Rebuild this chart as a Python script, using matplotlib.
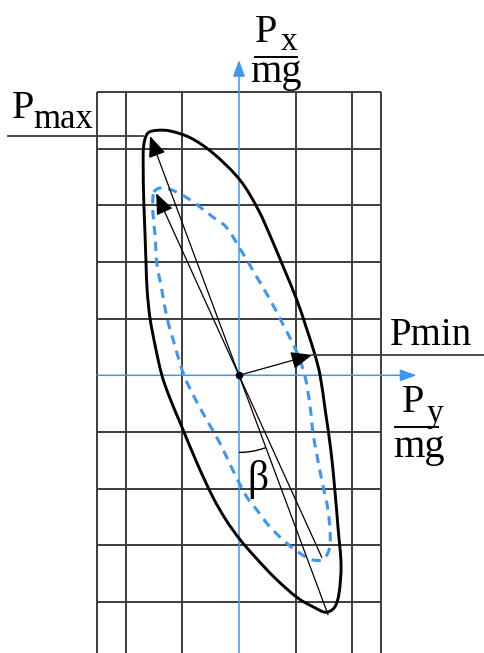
import matplotlib

matplotlib.use("Agg")
import matplotlib.pyplot as plt
import numpy as np
from matplotlib.lines import Line2D
from matplotlib.patches import Arc, PathPatch
from matplotlib.path import Path

W, H = 484, 653
UNIT = 56.7              # pixels per grid unit
ORIGIN = (239.0, 375.3)  # pixel position of the Py/Px origin

GRID_X = [-2.5, -2, -1, 1, 2, 2.5]
GRID_Y = [-4, -3, -2, -1, 1, 2, 3, 4, 5]
AXIS_PX_TOP = 5.56
AXIS_PY_RIGHT = 3.13

# load envelope (solid black), clockwise from the top
OUTER_X = [-1.61, -1.45, -1.22, -0.86, -0.46, 0.02, 0.34, 0.58, 0.79, 1.02, 1.20, 1.34, 1.43,
           1.52, 1.62, 1.69, 1.75, 1.80, 1.76, 1.68, 1.53, 1.34, 1.04, 0.64, 0.28, 0.02, -0.23,
           -0.46, -0.74, -1.02, -1.22, -1.36, -1.48, -1.57, -1.62, -1.64, -1.66, -1.68, -1.69,
           -1.68]
OUTER_Y = [4.27, 4.32, 4.31, 4.19, 3.92, 3.44, 2.92, 2.39, 1.89, 1.33, 0.80, 0.36, 0.00,
           -0.61, -1.32, -2.02, -2.73, -3.35, -3.87, -4.10, -4.18, -4.10, -3.93, -3.58, -3.20,
           -2.90, -2.55, -2.15, -1.55, -0.88, -0.40, 0.00, 0.53, 1.01, 1.50, 1.98, 2.56, 3.09,
           3.71, 4.06]

# reduced envelope (dashed blue), clockwise from the top
INNER_X = [-1.50, -1.41, -1.22, -0.95, -0.69, -0.46, -0.23, 0.02, 0.28, 0.55, 0.79, 1.02,
           1.16, 1.25, 1.31, 1.39, 1.46, 1.57, 1.61, 1.55, 1.45, 1.25, 0.95, 0.72, 0.49, 0.32,
           0.14, -0.11, -0.34, -0.55, -0.76, -0.97, -1.16, -1.27, -1.36, -1.45, -1.48, -1.52,
           -1.52]
INNER_Y = [3.23, 3.30, 3.28, 3.15, 2.97, 2.79, 2.62, 2.23, 1.79, 1.33, 0.87, 0.41, 0.00,
           -0.52, -1.05, -1.49, -1.85, -2.38, -2.96, -3.17, -3.26, -3.24, -3.05, -2.85, -2.61,
           -2.38, -2.15, -1.67, -1.19, -0.82, -0.44, 0.00, 0.62, 1.01, 1.50, 1.98, 2.47, 2.88,
           3.09]

P_MAX = (-1.57, 4.22)
P_MAX_INNER = (-1.46, 3.21)
P_MIN = (1.29, 0.36)
BETA_RADIUS = 1.36

BLUE = "#3b97f3"
GRID = "#3c3c3c"
SERIF = ["Liberation Serif", "DejaVu Serif"]


def closed_spline(xs, ys):
    # cubic Hermite through the points, tangents scaled by chord length
    pts = np.column_stack([xs, ys])
    prev = np.roll(pts, 1, axis=0)
    nxt = np.roll(pts, -1, axis=0)
    d_prev = np.linalg.norm(pts - prev, axis=1)
    d_next = np.linalg.norm(nxt - pts, axis=1)
    tang = (nxt - prev) / (d_prev + d_next)[:, None]
    n = len(pts)
    verts = [pts[0]]
    codes = [Path.MOVETO]
    for i in range(n):
        j = (i + 1) % n
        h = d_next[i] / 3
        verts += [pts[i] + tang[i] * h, pts[j] - tang[j] * h, pts[j]]
        codes += [Path.CURVE4] * 3
    return Path(verts, codes)


fig = plt.figure(figsize=(W / 100, H / 100), dpi=100)
ax = fig.add_axes([0, 0, 1, 1])
ax.set_xlim(-ORIGIN[0] / UNIT, (W - ORIGIN[0]) / UNIT)
ax.set_ylim((ORIGIN[1] - H) / UNIT, ORIGIN[1] / UNIT)
ax.axis("off")
y_bottom = ax.get_ylim()[0]
x_right = ax.get_xlim()[1]

# grid
ax.vlines(GRID_X, y_bottom - 1, GRID_Y[-1], color=GRID, lw=1.4, zorder=1)
ax.hlines(GRID_Y, GRID_X[0], GRID_X[-1], color=GRID, lw=1.4, zorder=1)

# blue axes
axis_arrow = dict(arrowstyle="-|>,head_length=0.55,head_width=0.2", color=BLUE, lw=1.1,
                  mutation_scale=18, shrinkA=0, shrinkB=0)
ax.annotate("", xy=(0, AXIS_PX_TOP), xytext=(0, y_bottom - 1), arrowprops=axis_arrow, zorder=2)
ax.annotate("", xy=(AXIS_PY_RIGHT, 0), xytext=(GRID_X[0], 0), arrowprops=axis_arrow, zorder=2)

# envelopes
ax.add_patch(PathPatch(closed_spline(OUTER_X, OUTER_Y), fill=False, color="black", lw=2.1, zorder=4))
inner = PathPatch(closed_spline(INNER_X, INNER_Y), fill=False, color=BLUE, lw=2.2, zorder=3)
inner.set_linestyle((0, (3.0, 2.2)))
ax.add_patch(inner)

# diameters through the origin
head = dict(arrowstyle="-|>,head_length=0.65,head_width=0.27", color="black", lw=0.9,
            mutation_scale=20, shrinkA=0, shrinkB=0)
for px, py in (P_MAX, P_MAX_INNER):
    ax.plot([0, -px], [0, -py], color="black", lw=0.9, zorder=5)
    ax.annotate("", xy=(px, py), xytext=(0, 0), arrowprops=head, zorder=5)
ax.annotate("", xy=P_MIN, xytext=(0, 0), arrowprops=head, zorder=5)
ax.plot(0, 0, "o", color="black", ms=4.5, zorder=6)

# leaders for Pmax / Pmin
ax.plot([-4.07, min(OUTER_X)], [P_MAX[1], P_MAX[1]], color=GRID, lw=1.3, zorder=5)
ax.plot([P_MIN[0], x_right], [P_MIN[1], P_MIN[1]], color=GRID, lw=1.3, zorder=5)

# angle beta between the Px axis and the major diameter
beta_end = np.degrees(np.arctan2(-P_MAX[1], -P_MAX[0]))
ax.add_patch(Arc((0, 0), 2 * BETA_RADIUS, 2 * BETA_RADIUS, theta1=-90, theta2=beta_end,
                 color="black", lw=1.0, zorder=5))


def put(px, py, s, size):
    fig.text(px / W, 1 - py / H, s, fontsize=size, family=SERIF, ha="left", va="baseline")


def bar(x0, x1, py):
    fig.add_artist(Line2D([x0 / W, x1 / W], [1 - py / H, 1 - py / H], color="black", lw=1.4))


put(12, 118, "P", 29)
put(33, 128, "max", 25)
put(390, 345, "Pmin", 28)

put(255, 42, "P", 29)
put(281, 50, "x", 24)
bar(255, 297, 57)
put(250, 82, "mg", 29)

put(402, 412, "P", 29)
put(427, 422, "y", 24)
bar(395, 438, 427)
put(393, 457, "mg", 29)

put(247, 490, "β", 30)

fig.savefig("out.png", dpi=100)
